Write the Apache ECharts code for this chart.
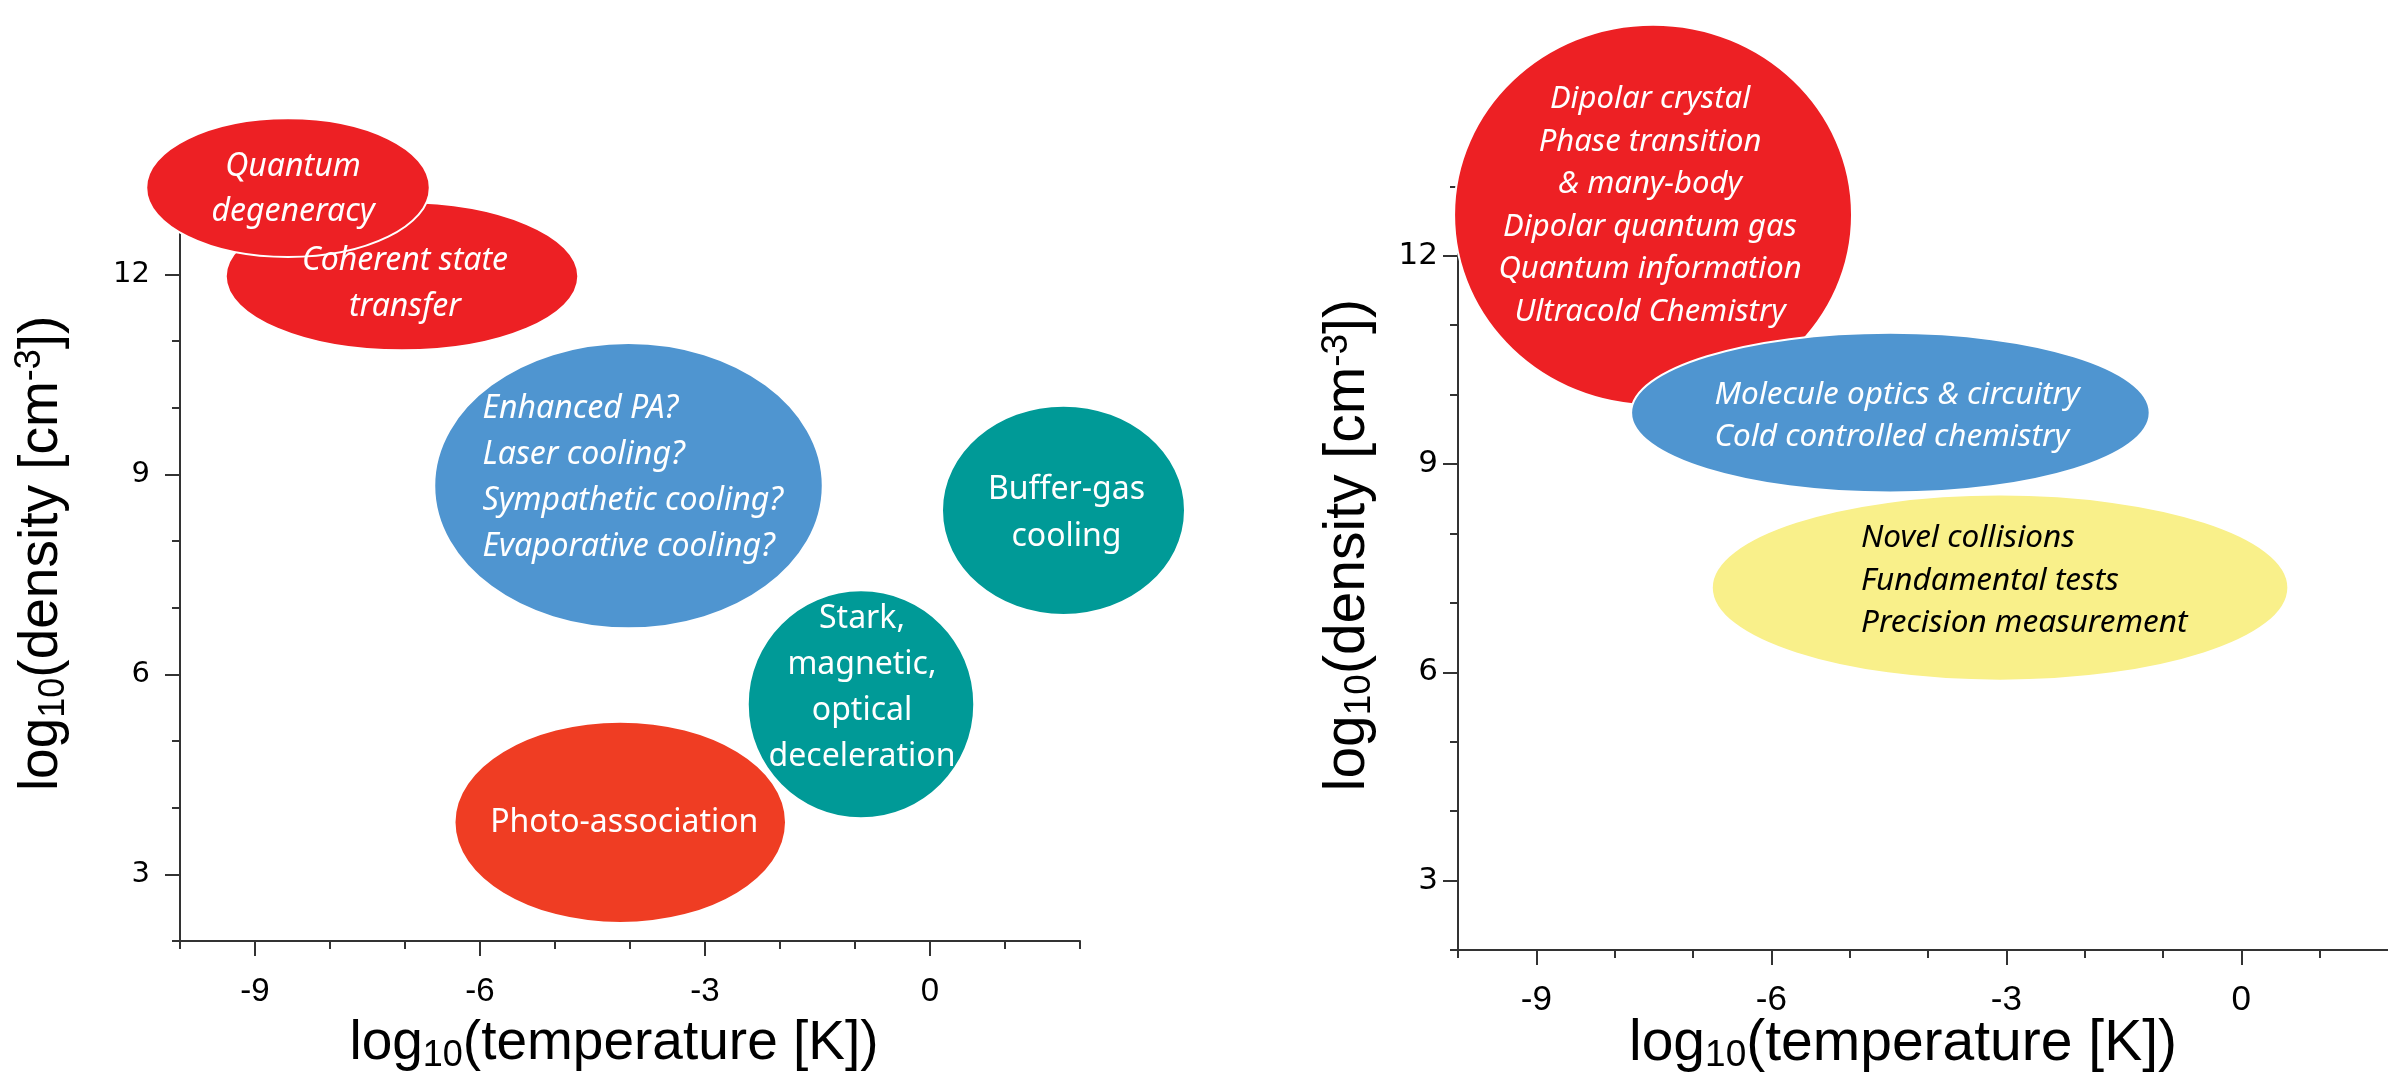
<!DOCTYPE html>
<html><head><meta charset="utf-8">
<script src="https://cdn.jsdelivr.net/npm/echarts@6/dist/echarts.min.js"></script>
<style>html,body{margin:0;padding:0;background:#fff}#c{width:2388px;height:1080px}</style>
</head><body><div id="c"></div>
<script>
// ---------------- data ----------------
const tempRange = [-10, 2];          // log10(T [K]) axis extent
const densityRange = [2, 13];        // log10(n [cm^-3]) axis extent
const tempTicks = [-9, -6, -3, 0];   // labelled ticks
const densityTicks = [3, 6, 9, 12];  // labelled ticks

// left panel: ellipse centre (temp, density) and half extents
const leftLabels = [
  'Photo-association',
  'Coherent state\ntransfer',
  'Quantum\ndegeneracy',
  'Enhanced PA?\nLaser cooling?\nSympathetic cooling?\nEvaporative cooling?',
  'Buffer-gas\ncooling',
  'Stark,\nmagnetic,\noptical\ndeceleration'
];
const leftTemp = [-4.13, -7.04, -8.56, -4.02, 1.78, -0.92];
const leftDensity = [3.78, 11.97, 13.3, 8.83, 8.46, 5.55];
const leftTempHalf = [2.21, 2.35, 1.89, 2.59, 1.62, 1.51];
const leftDensityHalf = [1.51, 1.11, 1.04, 2.14, 1.57, 1.71];

// right panel
const rightLabels = [
  'Dipolar crystal\nPhase transition\n& many-body\nDipolar quantum gas\nQuantum information\nUltracold Chemistry',
  'Molecule optics & circuitry\nCold controlled chemistry',
  'Novel collisions\nFundamental tests\nPrecision measurement'
];
const rightTemp = [-7.51, -4.48, -3.08];
const rightDensity = [12.59, 9.74, 7.22];
const rightTempHalf = [2.54, 3.31, 3.68];
const rightDensityHalf = [2.74, 1.15, 1.34];

// ---------------- styles ----------------
const RED = '#ED2024', ORANGE = '#EF3D23', BLUE = '#4F95D0', TEAL = '#009A97', YELLOW = '#F9F08A';
const leftStyles = [
  {fill: ORANGE, color: '#fff', italic: false, align: 'center', dx: 4, dy: 1, fs: 32, lh: 46},
  {fill: RED, color: '#fff', italic: true, align: 'center', dx: 3, dy: 8, fs: 32, lh: 46},
  {fill: RED, color: '#fff', italic: true, align: 'center', dx: 5, dy: 2, fs: 32, lh: 45},
  {fill: BLUE, color: '#fff', italic: true, align: 'left', dx: -146, dy: -8, fs: 32, lh: 46},
  {fill: TEAL, color: '#fff', italic: false, align: 'center', dx: 3, dy: 3, fs: 32, lh: 47},
  {fill: TEAL, color: '#fff', italic: false, align: 'center', dx: 1, dy: -16, fs: 32, lh: 46}
];
const rightStyles = [
  {fill: RED, color: '#fff', italic: true, align: 'center', dx: -3, dy: -9, fs: 31, lh: 42.5},
  {fill: BLUE, color: '#fff', italic: true, align: 'left', dx: -176, dy: 3, fs: 31.5, lh: 42},
  {fill: YELLOW, color: '#000', italic: true, align: 'left', dx: -139, dy: -7, fs: 31.5, lh: 42.5}
];

const AX = '#333333';
const gridL = {left: 180, top: 207.7, width: 900, height: 733.3};
const gridR = {left: 1458, top: 186.4, width: 940, height: 763.6};

function overlays(g) {
  const ux = g.width / (tempRange[1] - tempRange[0]);
  const uy = g.height / (densityRange[1] - densityRange[0]);
  const tl = tempTicks[tempTicks.length - 1], dl = densityTicks[densityTicks.length - 1];
  return [
    {left: g.left + (tempTicks[0] - tempRange[0]) * ux, top: g.top, width: (tl - tempTicks[0]) * ux, height: g.height},
    {left: g.left, top: g.top + (densityRange[1] - dl) * uy, width: g.width, height: (dl - densityTicks[0]) * uy}
  ];
}
const [gLx, gLy] = overlays(gridL);
const [gRx, gRy] = overlays(gridR);
const grids = [gridL, gLx, gLy, gridR, gRx, gRy].map(g => Object.assign({outerBoundsMode: 'none', containLabel: false}, g));

function richTitle(fs, padStart, padEnd) {
  const base = {fontFamily: 'Liberation Sans', fontSize: fs, lineHeight: 60, color: '#000'};
  return {
    a: base,
    b: Object.assign({}, base, {padding: [0, 0, 0, padStart]}),
    z: Object.assign({}, base, {padding: [0, padEnd, 0, 0]}),
    s: {fontFamily: 'Liberation Sans', fontSize: Math.round(fs * 0.65), lineHeight: 26, verticalAlign: 'bottom', color: '#000'},
    p: {fontFamily: 'Liberation Sans', fontSize: Math.round(fs * 0.65), lineHeight: 36, verticalAlign: 'top', color: '#000'}
  };
}

function mainX(gi, gap, fs, pad) {
  return {
    gridIndex: gi, type: 'value', min: tempRange[0], max: tempRange[1], interval: 1,
    axisLine: {show: true, onZero: false, lineStyle: {color: AX, width: 2}},
    axisTick: {show: true, length: 8, lineStyle: {color: AX, width: 2}},
    axisLabel: {show: false}, splitLine: {show: false},
    name: '{a|log}{s|10}{z|(temperature [K])}', nameLocation: 'middle', nameGap: gap, nameMoveOverlap: false,
    nameTextStyle: {rich: richTitle(fs, 0, pad)}
  };
}
function mainY(gi, gap, fs, padStart) {
  return {
    gridIndex: gi, type: 'value', min: densityRange[0], max: densityRange[1], interval: 1,
    axisLine: {show: true, onZero: false, lineStyle: {color: AX, width: 2}},
    axisTick: {show: true, length: 8, lineStyle: {color: AX, width: 2}},
    axisLabel: {show: false}, splitLine: {show: false},
    name: '{b|log}{s|10}{a|(density [cm}{p|-3}{a|])}', nameLocation: 'middle', nameGap: gap, nameMoveOverlap: false,
    nameTextStyle: {rich: richTitle(fs, padStart, 0)}
  };
}
function majorX(gi, margin, fs) {
  return {
    gridIndex: gi, type: 'value', min: tempTicks[0], max: tempTicks[tempTicks.length - 1], interval: tempTicks[1] - tempTicks[0],
    axisLine: {show: false, onZero: false}, axisTick: {show: true, length: 15, lineStyle: {color: AX, width: 2}},
    axisLabel: {show: true, margin: margin, fontFamily: 'Liberation Sans', fontSize: fs, color: '#000', showMinLabel: true, showMaxLabel: true},
    splitLine: {show: false}
  };
}
function majorY(gi, margin, fs) {
  return {
    gridIndex: gi, type: 'value', min: densityTicks[0], max: densityTicks[densityTicks.length - 1], interval: densityTicks[1] - densityTicks[0],
    axisLine: {show: false, onZero: false}, axisTick: {show: true, length: 15, lineStyle: {color: AX, width: 2}},
    axisLabel: {show: true, margin: margin, fontFamily: 'DejaVu Sans', fontSize: fs, color: '#000', showMinLabel: true, showMaxLabel: true},
    splitLine: {show: false}
  };
}
function hiddenX(gi) { return {gridIndex: gi, type: 'value', show: false, min: tempRange[0], max: tempRange[1], axisLine: {onZero: false}}; }
function hiddenY(gi) { return {gridIndex: gi, type: 'value', show: false, min: densityRange[0], max: densityRange[1], axisLine: {onZero: false}}; }

function makeRender(labels, styles) {
  return function (params, api) {
    const i = params.dataIndex, st = styles[i];
    const c = api.coord([api.value(0), api.value(1)]);
    const s = api.size([api.value(2), api.value(3)]);
    return {
      type: 'group',
      children: [
        {type: 'ellipse', z2: i, shape: {cx: c[0], cy: c[1], rx: s[0], ry: s[1]},
         style: {fill: st.fill, stroke: '#fff', lineWidth: 2}},
        {type: 'text', z2: 100, x: c[0] + st.dx, y: c[1] + st.dy,
         style: {text: labels[i], fill: st.color, fontFamily: 'Noto Sans', fontSize: st.fs,
                 fontStyle: st.italic ? 'italic' : 'normal', align: st.align, verticalAlign: 'middle', lineHeight: st.lh}}
      ]
    };
  };
}

const leftData = leftTemp.map((t, i) => [t, leftDensity[i], leftTempHalf[i], leftDensityHalf[i]]);
const rightData = rightTemp.map((t, i) => [t, rightDensity[i], rightTempHalf[i], rightDensityHalf[i]]);

const chart = echarts.init(document.getElementById('c'), null, {renderer: 'canvas'});
chart.setOption({
  backgroundColor: '#fff',
  animation: false,
  grid: grids,
  xAxis: [mainX(0, 73, 55, 32), majorX(1, 34, 33), hiddenX(2), mainX(3, 64, 57, 50), majorX(4, 33, 35), hiddenX(5)],
  yAxis: [mainY(0, 108, 55, 42), hiddenY(1), majorY(2, 30, 29), mainY(3, 80, 57, 46), hiddenY(4), majorY(5, 20, 31)],
  series: [
    {type: 'custom', xAxisIndex: 0, yAxisIndex: 0, data: leftData, encode: {x: 0, y: 1}, clip: false, silent: true,
     renderItem: makeRender(leftLabels, leftStyles)},
    {type: 'custom', xAxisIndex: 3, yAxisIndex: 3, data: rightData, encode: {x: 0, y: 1}, clip: false, silent: true,
     renderItem: makeRender(rightLabels, rightStyles)}
  ]
});
</script></body></html>
